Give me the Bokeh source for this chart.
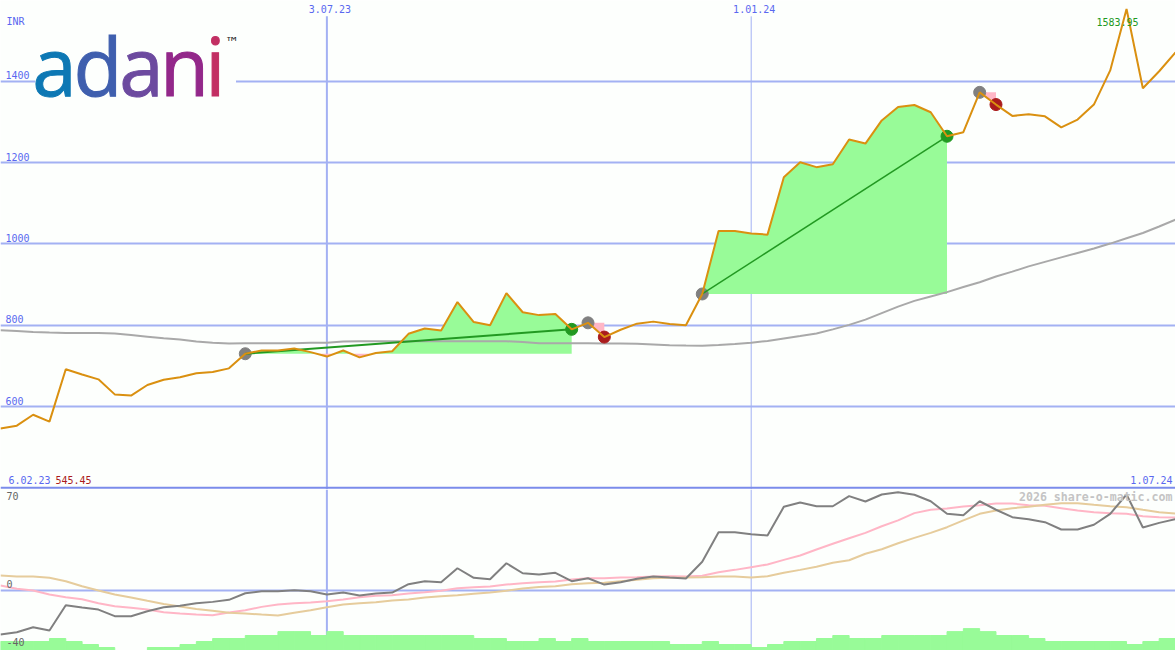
from bokeh.core.properties import value
from bokeh.embed import file_html
from bokeh.layouts import column
from bokeh.models import FixedTicker, Range1d
from bokeh.plotting import figure
from bokeh.resources import INLINE
import numpy as np

# weekly closes, INR
price = [546, 553, 580, 563, 692, 679, 667, 630, 627, 653, 666, 672, 682, 685, 694,
         730, 738, 738, 743, 734, 723, 738, 721, 732, 736, 779, 792, 787, 857, 808,
         800, 879, 832, 825, 828, 790, 806, 771, 789, 804, 809, 803, 800, 877, 1032,
         1032, 1026, 1023, 1164, 1201, 1189, 1196, 1257, 1247, 1304, 1337, 1342, 1324,
         1265, 1275, 1373, 1343, 1315, 1319, 1314, 1287, 1306, 1343, 1427, 1578, 1383,
         1425, 1471]
long_avg = [788, 786, 783.5, 782, 781, 781, 781, 780, 776, 772, 768, 765, 760, 757, 755,
            756, 756, 755.5, 755.5, 757, 757, 760, 761, 761, 761, 761, 761, 761, 761, 761,
            761, 760.6, 759, 756, 756, 756, 756, 755, 755, 754.5, 752.8, 751, 750, 749.6,
            751.5, 754, 757, 761.4, 767.5, 773.7, 780, 790, 801, 814, 830, 846, 860, 871,
            881.5, 894, 906, 920, 932, 945, 956, 967, 978, 989, 1001, 1014, 1027, 1043, 1060]

# oscillator panel
osc = [-32.6, -30.9, -27.2, -29.6, -10.9, -12.6, -14.1, -19, -19, -15.3, -12.4, -11.3, -9.4,
       -8.4, -6.9, -2, -0.5, -0.5, 0.2, -0.5, -3, -1.5, -3.7, -2.2, -1.5, 4.7, 6.9, 6.1, 16.5,
       9.4, 8.4, 20.2, 12.8, 11.9, 13.1, 6.9, 9.1, 4.4, 6.1, 8.7, 10.4, 9.6, 8.9, 21.3, 43.2,
       43.2, 41.7, 40.7, 62, 65.2, 62.4, 62.4, 69.9, 65.9, 71.1, 72.8, 70.9, 66.1, 56.8, 55.8,
       66.1, 59.8, 54.3, 52.8, 50.6, 45.2, 45.2, 48.7, 56.8, 71.1, 46.7, 50.1, 52.8]
osc_pink = [3.7, 1.3, 0, -3, -5, -6.4, -9.4, -11.6, -12.8, -14.1, -16.1, -17, -17.8, -18.3,
            -16.3, -14.6, -12.1, -10.4, -9.4, -8.9, -7.9, -6.7, -5, -3.9, -3.5, -2.2, -1.3,
            -0.2, 1.7, 2.4, 3, 4.4, 5.4, 6.1, 6.7, 8.1, 9.1, 9.1, 9.6, 9.9, 10.4, 10.6, 10.4,
            10.9, 13.6, 15.3, 17.3, 19.3, 22.7, 25.9, 30.4, 34.6, 38.7, 42.7, 47.6, 51.9, 57.3,
            59.8, 60.7, 62.2, 63.2, 64.4, 64.4, 63.2, 62.7, 61, 59.3, 58, 57.3, 56.8, 55, 54.3, 54.1]
osc_tan = [11.1, 10.4, 10.4, 9.4, 6.9, 3.2, 0, -3, -5.2, -7.6, -9.9, -11.9, -13.6, -15, -16.5,
           -17, -17.8, -18.5, -16.5, -14.6, -12.4, -10.4, -9.4, -8.7, -7.4, -6.7, -5.2, -4.2,
           -3.5, -2.4, -1.5, -0.2, 1.5, 2.7, 3.2, 4.7, 5.4, 5.7, 6.9, 7.9, 9.1, 9.4, 9.6, 9.9,
           10.4, 10.4, 9.6, 10.6, 13.1, 15.3, 17.6, 20.5, 22.4, 27.2, 30.6, 35, 39, 42.7, 46.9,
           51.9, 56.8, 59.3, 61, 62, 63.5, 64.7, 64.7, 63.5, 62.4, 61.7, 59.8, 58, 57]
volume = [3, 3, 3, 4, 3, 2, 1, 0, 0, 1, 1, 2, 3, 4, 4, 5, 5, 6.3, 6.3, 5, 6.3, 5, 5, 5, 5, 5, 5,
          5, 5, 4, 4, 3, 3, 4, 3, 4, 3, 3, 3, 3, 3, 2, 2, 3, 2, 2, 1, 2, 3, 3, 4, 5, 4, 4, 5, 5,
          5, 5, 6.3, 7.3, 6.3, 5, 5, 4, 3, 3, 3, 3, 3, 2, 3, 4]

# trades: entry and exit week
win_start = [15, 43]
win_end = [35, 58]
win_width = [2, 1.5]
loss_start = [36, 60]
loss_end = [37, 61]

price_ticks = [600, 800, 1000, 1200, 1400]
date_ticks = [20, 46]
date_labels = ["3.07.23", "1.01.24"]
date_widths = [2, 1]
osc_ticks = [70, 0, -40]
osc_tick_labels = ["70", "0", "-40"]

GRID = "#a3b1f3"
BLUE = "#5a68f0"
BG = "#fdfffd"
ORANGE = "#da9010"
PALEGREEN = "#98fb98"
PINK = "#ffb6c6"
DKGREEN = "#229922"
DKRED = "#aa1c1c"
MONO = "DejaVu Sans Mono"

weeks = np.arange(len(price))


def trade_fill(plot, start, end):
    # area between the entry level and the closes, green above, pink below
    level = price[start]
    xs = []
    ys = []
    for i in range(start, end):
        xs.append(i)
        ys.append(price[i])
        a, b = price[i] - level, price[i + 1] - level
        if a * b < 0:
            xs.append(i + a / (a - b))
            ys.append(level)
    xs.append(end)
    ys.append(price[end])
    ys = np.array(ys, dtype=float)
    plot.varea(xs, np.full(len(ys), level), np.maximum(ys, level), color=PALEGREEN)
    plot.varea(xs, np.full(len(ys), level), np.minimum(ys, level), color=PINK)


def style(plot):
    plot.background_fill_color = BG
    plot.border_fill_color = BG
    plot.outline_line_color = None
    plot.min_border = 0
    plot.xaxis.visible = False
    plot.yaxis.visible = False
    plot.xgrid.visible = False
    plot.ygrid.grid_line_color = GRID
    plot.ygrid.grid_line_width = 2


p = figure(width=1175, height=489, output_backend="svg", toolbar_location=None,
           x_range=Range1d(0, 72), y_range=Range1d(396, 1599))
style(p)
p.ygrid.ticker = FixedTicker(ticks=price_ticks)

p.segment(date_ticks, 396, date_ticks, 1560, color=GRID, line_width=date_widths)
p.segment(0, 400.5, 72, 400.5, color="#7b8ceb", line_width=2)

# logo sits on an opaque box, the 1400 rule stops at it
p.quad(left=2.15, right=14.4, bottom=1340, top=1530, color=BG)
logo_x = [3.31, 5.97, 8.64, 11.27, 13.17]
logo_colors = ["#0d78b4", "#3f5fae", "#6c4a9f", "#93288a", "#c22f63"]
for x, letter, col in zip(logo_x, "adani", logo_colors):
    p.text(x=[x], y=[1361], y_offset=-33, text=[letter], text_color=col, text_align="center",
           text_baseline="alphabetic", text_font=value("Open Sans"),
           text_font_size="80px", text_outline_color=col)
p.text(x=[13.75], y=[1497], text=["™"], text_color="#222222", text_font_size="14px",
       text_baseline="middle", text_font=value("DejaVu Sans"))

for s, e in zip(win_start, win_end):
    trade_fill(p, s, e)
for s, e in zip(loss_start, loss_end):
    trade_fill(p, s, e)

p.line(weeks, long_avg, color="#a9a9a9", line_width=2)

entries = win_start + loss_start
p.scatter(entries, [price[i] for i in entries], size=12, color="#808080")
p.scatter(win_end, [price[i] for i in win_end], size=12, color=DKGREEN)
p.scatter(loss_end, [price[i] for i in loss_end], size=12, color=DKRED)
for s, e, w in zip(win_start, win_end, win_width):
    p.line([s, e], [price[s], price[e]], color=DKGREEN, line_width=w)

p.line(weeks, price, color=ORANGE, line_width=2)

# tick labels sit inside the plot, just above their rule
p.text(x=[0] * len(price_ticks), y=price_ticks, text=[str(t) for t in price_ticks], x_offset=5,
       y_offset=-6, text_color=BLUE, text_baseline="middle", text_font=value(MONO),
       text_font_size="10px")
p.text(x=date_ticks, y=[1599] * 2, text=date_labels, x_offset=3, y_offset=8, text_color=BLUE,
       text_align="center", text_baseline="middle", text_font=value(MONO), text_font_size="10px")

p.text(x=[0], y=[1548], text=["INR"], x_offset=6, text_color=BLUE, text_baseline="middle",
       text_font=value(MONO), text_font_size="10px")
p.text(x=[68.45], y=[1545], text=["1583.95"], text_color=DKGREEN, text_align="center",
       text_baseline="middle", text_font=value(MONO), text_font_size="10px")
p.text(x=[0], y=[420], text=["6.02.23"], x_offset=8, text_color=BLUE, text_baseline="middle",
       text_font=value(MONO), text_font_size="10px")
p.text(x=[0], y=[420], text=["545.45"], x_offset=55, text_color=DKRED, text_baseline="middle",
       text_font=value(MONO), text_font_size="10px")
p.text(x=[72], y=[420], text=["1.07.24"], x_offset=-3, text_color=BLUE, text_align="right",
       text_baseline="middle", text_font=value(MONO), text_font_size="10px")

q = figure(width=1175, height=161, output_backend="svg", toolbar_location=None,
           x_range=p.x_range, y_range=Range1d(-44.4, 74.8))
style(q)
q.ygrid.ticker = FixedTicker(ticks=[0])
q.extra_y_ranges = {"vol": Range1d(0, 53.7)}

q.segment(date_ticks, -44.4, date_ticks, 74.8, color=GRID, line_width=date_widths)
q.vbar(x=weeks[:-1] + 0.5, width=1, top=volume, bottom=0, color=PALEGREEN, y_range_name="vol")

q.line(weeks, osc_pink, color=PINK, line_width=2)
q.line(weeks, osc_tan, color="#e6cc9c", line_width=2)
q.line(weeks, osc, color="#808080", line_width=2)

q.text(x=[0, 0, 0], y=osc_ticks, text=osc_tick_labels, x_offset=[6, 6, 6], y_offset=[0, -7, -3],
       text_color="#666666", text_baseline="middle", text_font=value(MONO), text_font_size="10px")
q.text(x=[72], y=[69.6], text=["2026 share-o-matic.com"], x_offset=-3, text_color="#c4c4c4",
       text_align="right", text_baseline="middle", text_font=value(MONO),
       text_font_style="bold", text_font_size="11.6px")

page = column(p, q, spacing=0)
open("out.html", "w").write(file_html(page, INLINE))
